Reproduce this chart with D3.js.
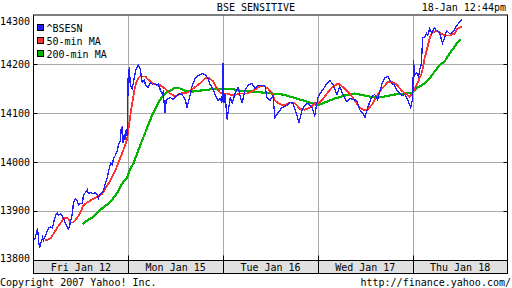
<!DOCTYPE html>
<html>
<head>
<meta charset="utf-8">
<script src="https://cdn.jsdelivr.net/npm/d3@7"></script>
<style>
	html, body { margin: 0; padding: 0; background: #fff; }
	svg { display: block; }
	text { font-family: "DejaVu Sans Mono", monospace; font-size: 10px; fill: #000; }
</style>
</head>
<body>
<script>
(function() {
	'use strict';

	// DATA //

	// Time is counted in trading minutes since the Friday open (one session ~335 min):
	var SESSION = 335;

	var days = [ 'Fri Jan 12', 'Mon Jan 15', 'Tue Jan 16', 'Wed Jan 17', 'Thu Jan 18' ];
	var yTicks = [ 13800, 13900, 14000, 14100, 14200, 14300 ];
	var legendLabels = [ '^BSESN', '50-min MA', '200-min MA' ];

	var bsesn = [
		[4,13839],[14,13864],[21,13823],[32,13845],[35,13839],[42,13849],[49,13859],[53,13864],[60,13867],[67,13864],
		[71,13876],[78,13890],[85,13896],[88,13890],[95,13894],[102,13890],[106,13884],[113,13874],[120,13866],[123,13862],
		[127,13867],[138,13896],[141,13917],[148,13925],[155,13921],[159,13911],[166,13915],[173,13915],[176,13931],[183,13937],
		[190,13943],[194,13935],[201,13937],[208,13935],[212,13935],[219,13937],[226,13931],[229,13925],[236,13935],[243,13937],
		[247,13941],[254,13956],[261,13968],[264,13978],[272,13997],[279,13993],[282,14007],[289,14013],[296,14023],[300,14034],
		[307,14044],[310,14068],[314,14071],[317,14038],[321,14058],[324,14044],[328,14068],[331,14054],
		[335,14187],[339,14191],[342,14157],[349,14150],[356,14173],[363,14191],[370,14198],[377,14191],[384,14163],[391,14167],
		[398,14155],[405,14152],[413,14163],[420,14159],[427,14161],[434,14157],[441,14159],[448,14148],[455,14138],[458,14142],
		[465,14101],[469,14128],[476,14130],[483,14132],[494,14128],[504,14134],[511,14138],[518,14140],[525,14138],[536,14128],
		[543,14111],[547,14122],[554,14138],[561,14157],[571,14171],[582,14177],[599,14181],[606,14179],[617,14171],[624,14159],
		[635,14148],[642,14138],[652,14126],[659,14130],[666,14122],
		[670,14202],[673,14120],[677,14140],[684,14087],[695,14132],[702,14120],[712,14140],[723,14152],[737,14120],[747,14146],
		[758,14157],[772,14161],[783,14150],[793,14157],[807,14157],[818,14155],[825,14132],[836,14126],[846,14136],[853,14091],
		[864,14101],[878,14111],[896,14116],[906,14122],[917,14120],[931,14095],[938,14081],[949,14105],[959,14116],[970,14120],
		[984,14111],[994,14095],
		[1005,14132],[1012,14140],[1023,14148],[1037,14161],[1047,14167],[1058,14159],[1072,14138],[1082,14155],[1093,14138],[1107,14124],
		[1118,14130],[1128,14128],[1142,14126],[1153,14107],[1164,14099],[1171,14091],[1181,14111],[1195,14134],[1206,14138],[1216,14128],
		[1231,14159],[1241,14173],[1252,14175],[1266,14161],[1276,14157],[1287,14144],[1301,14136],[1312,14138],[1322,14128],[1333,14111],
		[1340,14130],
		[1343,14208],[1347,14177],[1354,14183],[1361,14175],[1364,14187],[1371,14202],[1375,14255],[1382,14255],[1389,14263],[1393,14259],
		[1400,14273],[1407,14263],[1417,14275],[1424,14269],[1435,14265],[1445,14243],[1453,14255],[1460,14269],[1470,14263],[1481,14265],
		[1491,14275],[1502,14284],[1513,14292]
	];

	var ma50 = [
		[42,13839],[60,13843],[71,13853],[85,13866],[95,13874],[106,13884],[120,13886],[130,13876],[141,13876],[155,13886],
		[166,13896],[176,13911],[190,13917],[208,13923],[226,13929],[243,13935],[254,13946],[272,13962],[289,13982],[307,14009],
		[324,14034],[331,14048],[335,14064],[342,14095],[349,14120],[356,14146],[363,14163],[370,14171],[377,14175],[395,14175],
		[405,14169],[420,14161],[441,14157],[448,14157],[465,14150],[483,14140],[501,14134],[518,14140],[543,14142],[564,14150],
		[589,14161],[606,14171],[617,14173],[635,14165],[649,14150],[659,14142],[670,14140],
		[684,14140],[705,14136],[730,14140],[755,14140],[776,14146],[793,14152],[811,14157],[829,14150],[843,14140],[853,14126],
		[871,14118],[889,14116],[906,14122],[924,14120],[941,14109],[959,14107],[977,14111],[994,14120],
		[1005,14120],[1019,14126],[1037,14140],[1054,14152],[1072,14159],[1082,14159],[1100,14150],[1118,14140],[1135,14126],[1153,14111],
		[1171,14105],[1181,14107],[1199,14120],[1216,14138],[1234,14152],[1252,14163],[1269,14163],[1283,14159],[1301,14146],[1319,14138],
		[1329,14134],[1340,14142],
		[1357,14161],[1371,14181],[1378,14198],[1382,14212],[1393,14237],[1400,14253],[1407,14263],[1417,14267],[1424,14269],[1435,14265],
		[1453,14259],[1470,14259],[1488,14263],[1498,14273],[1513,14277]
	];

	var ma200 = [
		[173,13872],[190,13880],[208,13886],[226,13896],[243,13905],[261,13913],[279,13923],[296,13937],[314,13956],[331,13968],
		[339,13982],[353,13997],[370,14023],[377,14034],[395,14060],[413,14087],[430,14109],[448,14128],[465,14140],[483,14146],
		[501,14152],[511,14152],[536,14146],[561,14144],[589,14146],[617,14148],[642,14150],[670,14150],
		[695,14150],[730,14146],[776,14144],[811,14142],[846,14140],[881,14138],[917,14132],[952,14126],[987,14120],
		[1005,14116],[1030,14122],[1065,14130],[1100,14136],[1135,14140],[1171,14136],[1206,14132],[1241,14134],[1276,14138],
		[1312,14140],[1340,14142],
		[1357,14152],[1382,14161],[1400,14171],[1417,14185],[1435,14198],[1453,14206],[1470,14222],[1488,14236],[1498,14245],
		[1509,14251]
	];


	// VARIABLES //

	var WIDTH = 512,
		HEIGHT = 288,
		LEFT = 33.5,
		RIGHT = 507.5,
		TOP = 15.5,
		BOTTOM = 259.5,
		BAND = 273.5,
		TICK = 4;

	var COLORS = [ '#1e1eff', '#ff3030', '#00b400' ],
		WIDTHS = [ 1.3, 1.8, 2.2 ],
		GRID = '#a8a8a8';


	// SCALES //

	var x = d3.scaleLinear()
		.domain( [ 0, days.length * SESSION ] )
		.range( [ LEFT, RIGHT ] );

	var y = d3.scaleLinear()
		.domain( [ 13800, 14300 ] )
		.range( [ BOTTOM, TOP ] );

	var boundaries = d3.range( 1, days.length ).map( function( k ) {
		return k * SESSION;
	});


	// CANVAS //

	var svg = d3.select( 'body' ).append( 'svg' )
		.attr( 'width', WIDTH )
		.attr( 'height', HEIGHT );

	// Grid lines:
	svg.append( 'g' ).selectAll( 'line' )
		.data( yTicks.slice( 1, -1 ) )
	  .enter().append( 'line' )
		.attr( 'x1', LEFT )
		.attr( 'x2', RIGHT )
		.attr( 'y1', function( d ) { return Math.round( y( d ) ) + 0.5; })
		.attr( 'y2', function( d ) { return Math.round( y( d ) ) + 0.5; })
		.attr( 'stroke', GRID );

	svg.append( 'g' ).selectAll( 'line' )
		.data( boundaries )
	  .enter().append( 'line' )
		.attr( 'x1', function( d ) { return Math.round( x( d ) ) + 0.5; })
		.attr( 'x2', function( d ) { return Math.round( x( d ) ) + 0.5; })
		.attr( 'y1', TOP )
		.attr( 'y2', BOTTOM )
		.attr( 'stroke', GRID );

	// Tick marks at the frame edges:
	var ticks = svg.append( 'g' ).attr( 'stroke', '#000' );
	yTicks.slice( 1, -1 ).forEach( function( d ) {
		var yy = Math.round( y( d ) ) + 0.5;
		ticks.append( 'line' ).attr( 'x1', LEFT ).attr( 'x2', LEFT + TICK ).attr( 'y1', yy ).attr( 'y2', yy );
		ticks.append( 'line' ).attr( 'x1', RIGHT - TICK ).attr( 'x2', RIGHT ).attr( 'y1', yy ).attr( 'y2', yy );
	});
	boundaries.forEach( function( d ) {
		var xx = Math.round( x( d ) ) + 0.5;
		ticks.append( 'line' ).attr( 'x1', xx ).attr( 'x2', xx ).attr( 'y1', BOTTOM - TICK ).attr( 'y2', BAND );
	});

	// Series lines (drawn aliased, like the original bitmap chart):
	var line = d3.line()
		.x( function( d ) { return x( d[ 0 ] ); })
		.y( function( d ) { return y( d[ 1 ] ); });

	[ ma200, ma50, bsesn ].forEach( function( series, i ) {
		var k = 2 - i;
		svg.append( 'path' )
			.datum( series )
			.attr( 'fill', 'none' )
			.attr( 'stroke', COLORS[ k ] )
			.attr( 'stroke-width', WIDTHS[ k ] )
			.attr( 'shape-rendering', 'crispEdges' )
			.attr( 'd', line );
	});

	// Date band below the plot:
	svg.append( 'rect' )
		.attr( 'x', LEFT )
		.attr( 'y', BOTTOM + 1 )
		.attr( 'width', RIGHT - LEFT )
		.attr( 'height', BAND - BOTTOM - 1 )
		.attr( 'fill', '#e0e0e0' );

	svg.append( 'line' )
		.attr( 'x1', LEFT ).attr( 'x2', RIGHT )
		.attr( 'y1', BOTTOM + 1 ).attr( 'y2', BOTTOM + 1 )
		.attr( 'stroke', '#000' );

	boundaries.forEach( function( d ) {
		var xx = Math.round( x( d ) ) + 0.5;
		svg.append( 'line' ).attr( 'x1', xx ).attr( 'x2', xx )
			.attr( 'y1', BOTTOM + 1 ).attr( 'y2', BAND ).attr( 'stroke', '#000' );
	});

	svg.append( 'g' ).selectAll( 'text' )
		.data( days )
	  .enter().append( 'text' )
		.attr( 'x', function( d, i ) { return x( ( i + 0.5 ) * SESSION ); })
		.attr( 'y', BAND - 3 )
		.attr( 'text-anchor', 'middle' )
		.text( function( d ) { return d; });

	// Frame:
	svg.append( 'rect' )
		.attr( 'x', LEFT )
		.attr( 'y', TOP - 0.5 )
		.attr( 'width', RIGHT - LEFT )
		.attr( 'height', BAND - TOP + 0.5 )
		.attr( 'fill', 'none' )
		.attr( 'stroke', '#000' );

	// Y labels:
	svg.append( 'g' ).selectAll( 'text' )
		.data( yTicks )
	  .enter().append( 'text' )
		.attr( 'x', 30 )
		.attr( 'y', function( d ) { return Math.min( Math.max( y( d ), 21 ), 258 ) + 3.6; })
		.attr( 'text-anchor', 'end' )
		.text( function( d ) { return d; });

	// Legend:
	var legend = svg.append( 'g' )
		.selectAll( 'g' )
		.data( legendLabels )
	  .enter().append( 'g' )
		.attr( 'transform', function( d, i ) { return 'translate(37.5,' + ( 24.5 + i * 13 ) + ')'; });

	legend.append( 'rect' )
		.attr( 'width', 6 )
		.attr( 'height', 6 )
		.attr( 'fill', function( d, i ) { return COLORS[ i ]; })
		.attr( 'stroke', '#000' );

	legend.append( 'text' )
		.attr( 'x', 9 )
		.attr( 'y', 7.5 )
		.text( function( d ) { return d; });

	// Titles and footer:
	svg.append( 'text' ).attr( 'x', 256 ).attr( 'y', 10.7 ).attr( 'text-anchor', 'middle' ).text( 'BSE SENSITIVE' );
	svg.append( 'text' ).attr( 'x', 506 ).attr( 'y', 10.7 ).attr( 'text-anchor', 'end' ).text( '18-Jan 12:44pm' );
	svg.append( 'text' ).attr( 'x', 0 ).attr( 'y', 285.5 ).text( 'Copyright 2007 Yahoo! Inc.' );
	svg.append( 'text' ).attr( 'x', 511 ).attr( 'y', 285.5 ).attr( 'text-anchor', 'end' ).text( 'http://finance.yahoo.com/' );

})();
</script>
</body>
</html>
